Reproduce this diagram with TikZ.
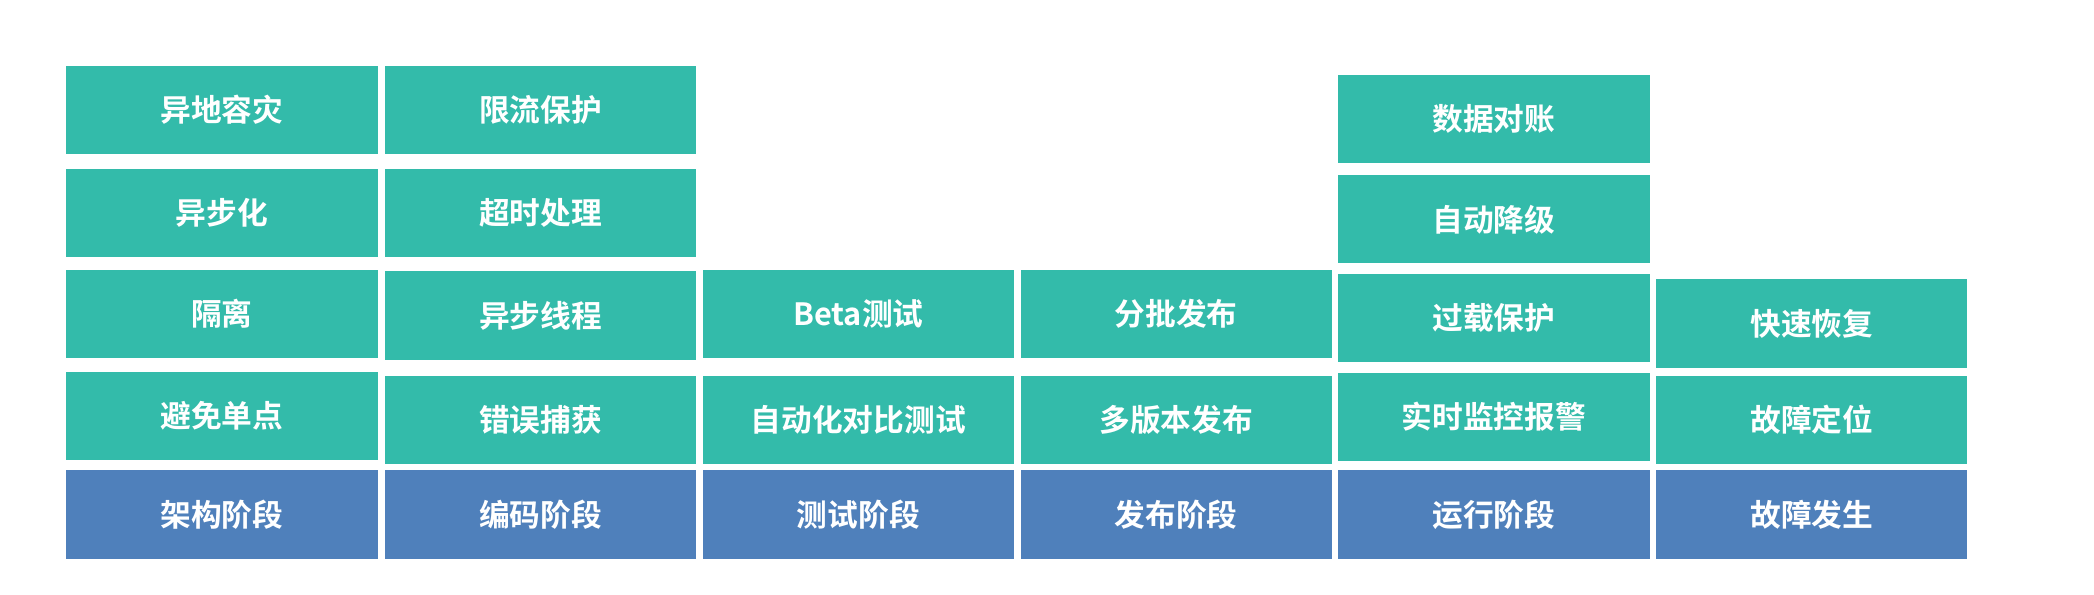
\documentclass[tikz,border=0pt]{standalone}
\usepackage{fontspec}
\setmainfont{Noto Sans CJK SC Bold}
\definecolor{teal1}{HTML}{33BBAA}
\definecolor{blue1}{HTML}{4F80BB}
\begin{document}
\begin{tikzpicture}[x=1pt,y=-1pt,
 cell/.style={fill=teal1,draw=none,minimum width=234pt,minimum height=66pt,anchor=north west,inner sep=0pt,text=white,font=\fontsize{23}{23}\selectfont},
 stage/.style={cell,fill=blue1}]
\useasboundingbox (0,0) rectangle (1568,445);
% column 1
\node[cell] (a1) at (49,49) {异地容灾};
\node[cell] (a2) at (49,126) {异步化};
\node[cell] (a3) at (49,202) {隔离};
\node[cell] (a4) at (49,278) {避免单点};
\node[stage] (a5) at (49,352) {架构阶段};
% column 2
\node[cell,minimum width=233pt] (b1) at (288,49) {限流保护};
\node[cell,minimum width=233pt] (b2) at (288,126) {超时处理};
\node[cell,minimum width=233pt] (b3) at (288,203) {异步线程};
\node[cell,minimum width=233pt] (b4) at (288,281) {错误捕获};
\node[stage,minimum width=233pt] (b5) at (288,352) {编码阶段};
% column 3
\node[cell,minimum width=233pt] (c3) at (526,202) {Beta测试};
\node[cell,minimum width=233pt] (c4) at (526,281) {自动化对比测试};
\node[stage,minimum width=233pt] (c5) at (526,352) {测试阶段};
% column 4
\node[cell,minimum width=233pt] (d3) at (764,202) {分批发布};
\node[cell,minimum width=233pt] (d4) at (764,281) {多版本发布};
\node[stage,minimum width=233pt] (d5) at (764,352) {发布阶段};
% column 5
\node[cell,minimum width=233pt] (e1) at (1002,56) {数据对账};
\node[cell,minimum width=233pt] (e2) at (1002,131) {自动降级};
\node[cell,minimum width=233pt] (e3) at (1002,205) {过载保护};
\node[cell,minimum width=233pt] (e4) at (1002,279) {实时监控报警};
\node[stage,minimum width=233pt] (e5) at (1002,352) {运行阶段};
% column 6
\node[cell,minimum width=233pt] (f3) at (1240,209) {快速恢复};
\node[cell,minimum width=233pt] (f4) at (1240,281) {故障定位};
\node[stage,minimum width=233pt] (f5) at (1240,352) {故障发生};
\end{tikzpicture}
\end{document}
